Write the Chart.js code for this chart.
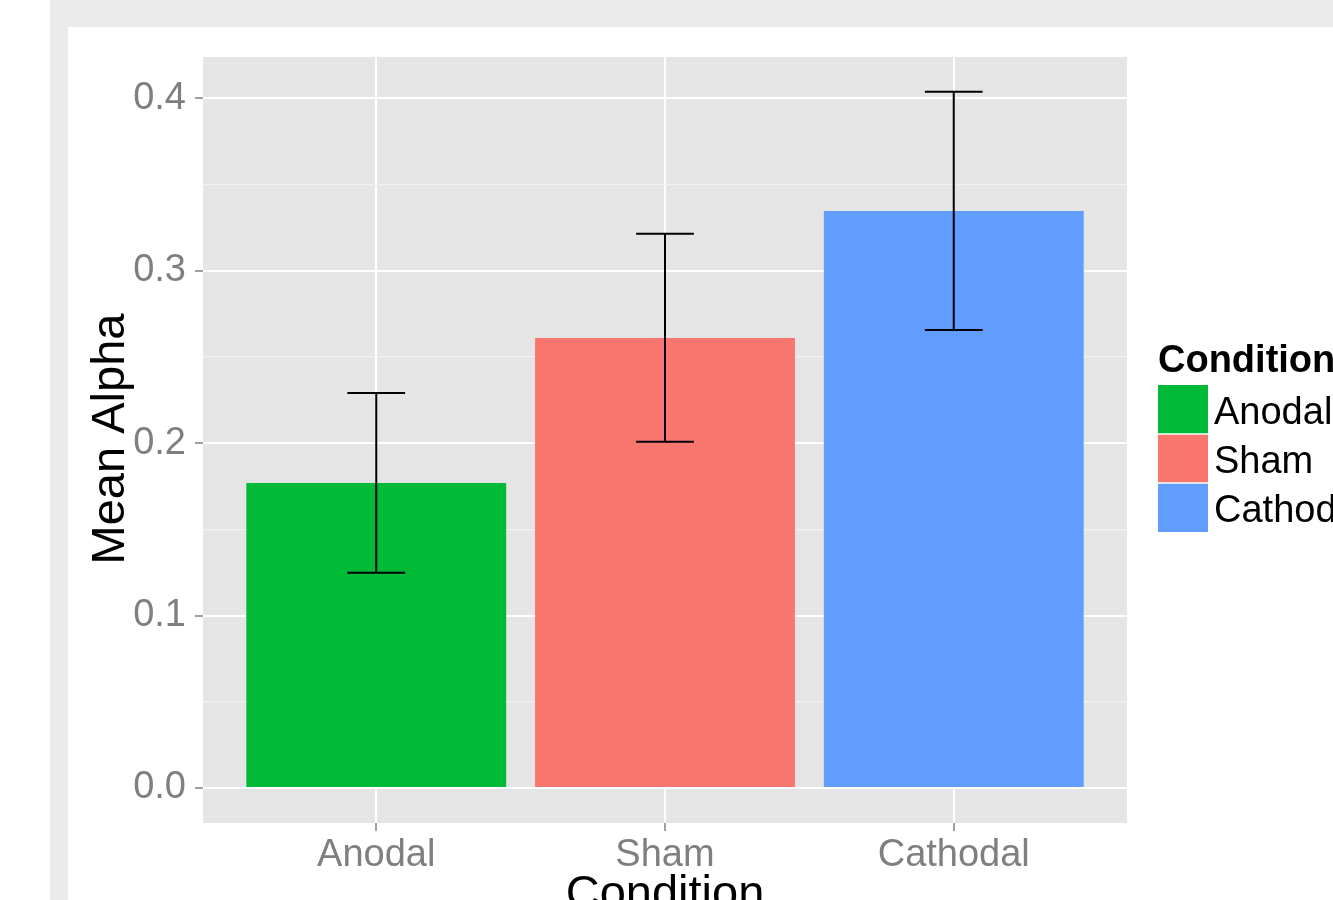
<!DOCTYPE html>
<html>
<head>
<meta charset="utf-8">
<script src="https://cdn.jsdelivr.net/npm/chart.js@4.4.1/dist/chart.umd.min.js"></script>
<style>
  html, body { margin: 0; padding: 0; background: #ffffff; }
  #wrap { width: 1333px; height: 900px; position: relative; }
</style>
</head>
<body>
<div id="wrap"><canvas id="chart" width="1333" height="900"></canvas></div>
<script>
// Mean alpha per stimulation condition, with error bar limits
const categories = ['Anodal', 'Sham', 'Cathodal'];
const meanAlpha = [0.1768, 0.2609, 0.3345];
const errLower = [0.1248, 0.2007, 0.2655];
const errUpper = [0.2290, 0.3213, 0.4037];
const barColors = ['#00ba38', '#f8766d', '#619cff'];
const yTicks = [0, 0.05, 0.1, 0.15, 0.2, 0.25, 0.3, 0.35, 0.4];
const yTickLabels = ['0.0', '', '0.1', '', '0.2', '', '0.3', '', '0.4'];
const xTitle = 'Condition';
const yTitle = 'Mean Alpha';
const legendTitle = 'Condition';

const FONT = '"Liberation Sans", Arial, Helvetica, sans-serif';
const xPositions = categories.map((c, i) => i + 1);

// Page frame and grey plotting panel
const backdrop = {
  id: 'backdrop',
  beforeDraw(chart) {
    const ctx = chart.ctx;
    const a = chart.chartArea;
    ctx.save();
    ctx.fillStyle = '#ffffff';
    ctx.fillRect(0, 0, chart.width, chart.height);
    ctx.fillStyle = '#ebebeb';
    ctx.fillRect(50, 0, chart.width - 50, chart.height);
    ctx.fillStyle = '#ffffff';
    ctx.fillRect(68, 27, chart.width - 68, chart.height - 27);
    ctx.fillStyle = '#e5e5e5';
    ctx.fillRect(a.left, a.top, a.right - a.left, a.bottom - a.top);
    ctx.restore();
  }
};

// Error bars drawn through the chart's own scales
const errorBars = {
  id: 'errorBars',
  afterDatasetsDraw(chart) {
    const ctx = chart.ctx;
    const xs = chart.scales.x, ys = chart.scales.y;
    ctx.save();
    ctx.strokeStyle = '#000000';
    ctx.lineWidth = 2;
    xPositions.forEach((xv, i) => {
      const xc = xs.getPixelForValue(xv);
      const xl = xs.getPixelForValue(xv - 0.1);
      const xr = xs.getPixelForValue(xv + 0.1);
      const yt = ys.getPixelForValue(errUpper[i]);
      const yb = ys.getPixelForValue(errLower[i]);
      ctx.beginPath();
      ctx.moveTo(xc, yt); ctx.lineTo(xc, yb);
      ctx.moveTo(xl, yt); ctx.lineTo(xr, yt);
      ctx.moveTo(xl, yb); ctx.lineTo(xr, yb);
      ctx.stroke();
    });
    ctx.restore();
  }
};

// Axis titles and the fill legend on the right
const annotations = {
  id: 'annotations',
  afterDraw(chart) {
    const ctx = chart.ctx;
    const a = chart.chartArea;
    ctx.save();
    ctx.fillStyle = '#000000';
    ctx.font = '47px ' + FONT;
    ctx.textAlign = 'center';
    ctx.textBaseline = 'alphabetic';
    ctx.fillText(xTitle, (a.left + a.right) / 2, 908);

    ctx.save();
    ctx.translate(124, 439);
    ctx.rotate(-Math.PI / 2);
    ctx.fillText(yTitle, 0, 0);
    ctx.restore();

    const lx = 1158, ly = 385, kw = 50, kh = 49;
    ctx.textAlign = 'left';
    ctx.font = 'bold 38px ' + FONT;
    ctx.fillText(legendTitle, lx, 372);
    ctx.font = '38px ' + FONT;
    categories.forEach((c, i) => {
      const y = ly + i * kh;
      ctx.fillStyle = barColors[i];
      ctx.fillRect(lx, y, kw, kh);
      ctx.fillStyle = '#000000';
      ctx.fillText(c, lx + 56, y + kh / 2 + 14);
    });
    ctx.strokeStyle = '#ffffff';
    ctx.lineWidth = 1.5;
    for (let i = 1; i < categories.length; i++) {
      ctx.beginPath();
      ctx.moveTo(lx, ly + i * kh);
      ctx.lineTo(lx + kw, ly + i * kh);
      ctx.stroke();
    }
    ctx.restore();
  }
};

const isMajor = (v) => Math.abs(v * 10 - Math.round(v * 10)) < 1e-6;

new Chart(document.getElementById('chart'), {
  type: 'bar',
  data: {
    datasets: [{
      data: categories.map((c, i) => ({ x: xPositions[i], y: meanAlpha[i] })),
      backgroundColor: barColors,
      borderWidth: 0,
      barPercentage: 0.9,
      categoryPercentage: 1.0
    }]
  },
  options: {
    responsive: false,
    animation: false,
    events: [],
    layout: { padding: { left: 0, right: 206, top: 57, bottom: 0 } },
    plugins: { legend: { display: false }, tooltip: { enabled: false } },
    scales: {
      x: {
        type: 'linear',
        min: 0.4,
        max: 3.6,
        offset: false,
        afterFit(scale) { scale.height = 77; },
        afterBuildTicks(scale) { scale.ticks = xPositions.map(v => ({ value: v })); },
        border: { display: false },
        grid: { offset: false, color: '#ffffff', lineWidth: 2, tickColor: '#7f7f7f', tickLength: 8, tickWidth: 1.5 },
        ticks: {
          color: '#7f7f7f',
          font: { family: FONT, size: 38 },
          padding: 2,
          maxRotation: 0,
          callback: (v) => categories[Math.round(v) - 1]
        }
      },
      y: {
        type: 'linear',
        min: -0.0203,
        max: 0.4238,
        afterFit(scale) { scale.width = 203; },
        afterBuildTicks(scale) { scale.ticks = yTicks.map(v => ({ value: v })); },
        border: { display: false },
        grid: {
          color: (c) => isMajor(c.tick.value) ? '#ffffff' : '#f2f2f2',
          lineWidth: (c) => isMajor(c.tick.value) ? 2 : 1.2,
          tickColor: (c) => isMajor(c.tick.value) ? '#7f7f7f' : 'rgba(0,0,0,0)',
          tickLength: 8,
          tickWidth: 1.5
        },
        ticks: {
          color: '#7f7f7f',
          font: { family: FONT, size: 38 },
          padding: 9,
          callback: (v) => yTickLabels[yTicks.findIndex(t => Math.abs(t - v) < 1e-9)]
        }
      }
    }
  },
  plugins: [backdrop, errorBars, annotations]
});
</script>
</body>
</html>
